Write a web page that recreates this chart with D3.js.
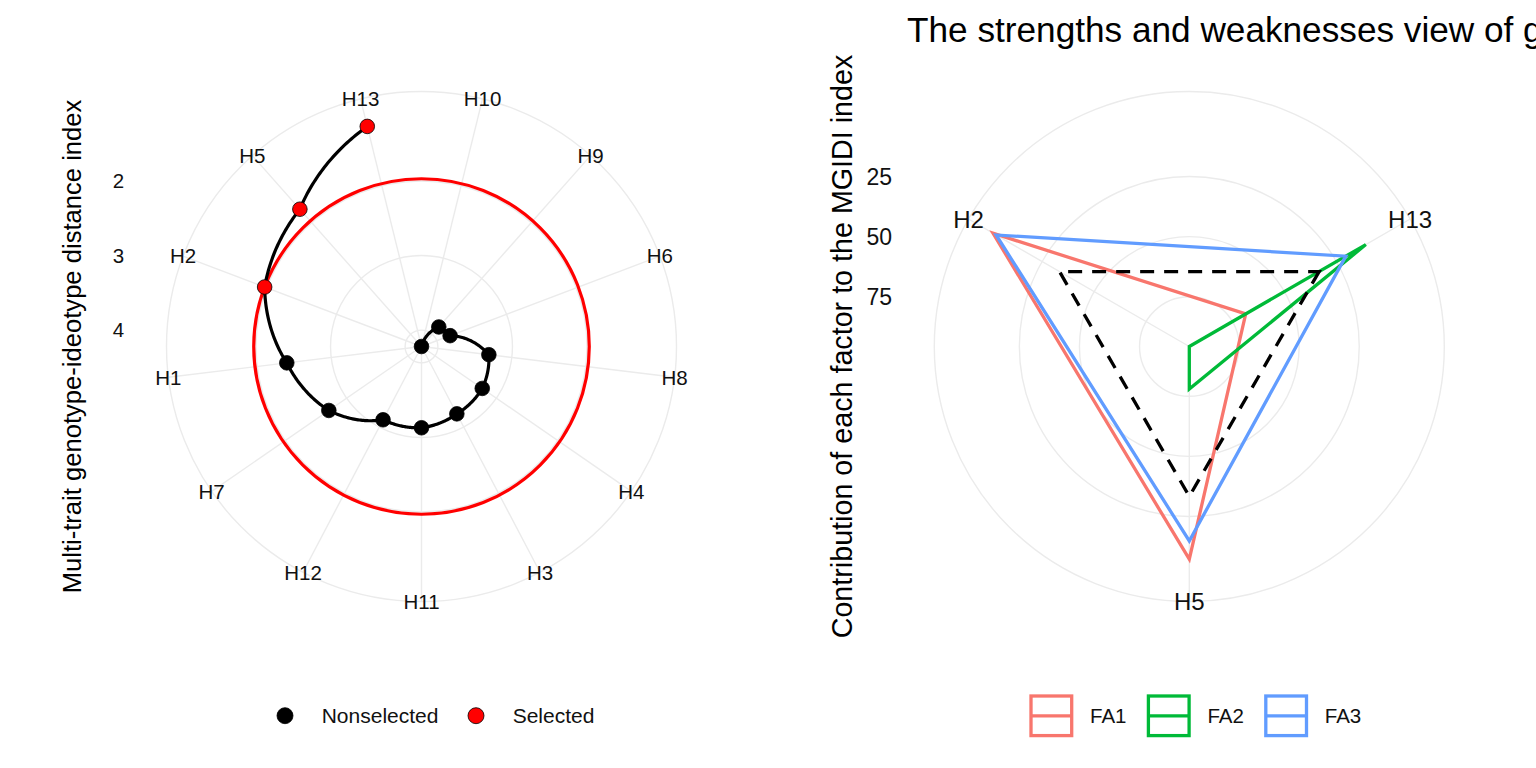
<!DOCTYPE html>
<html>
<head>
<meta charset="utf-8">
<script src="https://cdn.jsdelivr.net/npm/d3@7"></script>
<style>
  html, body { margin: 0; padding: 0; background: #fff; overflow: hidden; }
  svg { display: block; font-family: "Liberation Sans", Arial, sans-serif; }
</style>
</head>
<body>
<div id="chart"></div>
<script>
// MGIDI per genotype, clockwise from 12 o'clock (highest to lowest index)
const genotypes = ["H10", "H9", "H6", "H8", "H4", "H3", "H11", "H12", "H7", "H1", "H2", "H5", "H13"];
const mgidi = [4.22, 3.87, 3.81, 3.31, 3.23, 3.20, 3.13, 3.11, 2.71, 2.40, 1.97, 1.76, 1.18];
const selected = ["H2", "H5", "H13"];
const cutoff = 1.97;
const mgidiTicks = [2, 3, 4];
const selLabels = ["Nonselected", "Selected"];

// contribution (%) of each factor for the selected genotypes
const radarGenotypes = ["H13", "H5", "H2"];
const factors = ["FA1", "FA2", "FA3"];
const fa1 = [68.6, 7.2, 1.4];
const fa2 = [10.9, 78.0, 95.7];
const fa3 = [20.5, 14.8, 2.9];
const equalShare = [33.33, 33.33, 33.33];
const contribTicks = [25, 50, 75];

const factorColors = ["#F8766D", "#00BA38", "#619CFF"];
const gridCol = "#EBEBEB";

const W = 1536, H = 768;
const svg = d3.select("#chart").append("svg")
    .attr("width", W)
    .attr("height", H);

const outerR = 255;                 // outer ring of the panel
const dataR = outerR * 0.4 / 0.45;  // radius used by the data range
const half = outerR / 0.45 / 2;     // half of the panel width

// background of a polar panel: rings, spokes, labels
function polarPanel(cx, cy, cats, rScale, ticks, axisSize, thetaSize) {
    const g = svg.append("g").attr("transform", `translate(${cx},${cy})`);
    const theta = d3.scaleBand().domain(cats).range([0, 2 * Math.PI]);
    const ang = d => theta(d) + theta.bandwidth() / 2;

    g.selectAll(".ring")
        .data(ticks.map(t => rScale(t)).concat([outerR]))
        .enter().append("circle")
        .attr("r", d => d)
        .attr("fill", "none")
        .attr("stroke", gridCol)
        .attr("stroke-width", 1.4);

    g.selectAll(".spoke")
        .data(cats)
        .enter().append("line")
        .attr("x1", 0).attr("y1", 0)
        .attr("x2", d => outerR * Math.sin(ang(d)))
        .attr("y2", d => -outerR * Math.cos(ang(d)))
        .attr("stroke", gridCol)
        .attr("stroke-width", 1.4);

    g.selectAll(".tlab")
        .data(cats)
        .enter().append("text")
        .attr("x", d => outerR * Math.sin(ang(d)))
        .attr("y", d => -outerR * Math.cos(ang(d)))
        .attr("dy", "0.36em")
        .attr("text-anchor", "middle")
        .style("font-size", thetaSize + "px")
        .attr("fill", "#111")
        .text(d => d);

    g.selectAll(".rlab")
        .data(ticks)
        .enter().append("text")
        .attr("x", -half - 14)
        .attr("y", d => -rScale(d))
        .attr("dy", "0.36em")
        .attr("text-anchor", "end")
        .style("font-size", axisSize + "px")
        .attr("fill", "#111")
        .text(d => d);

    return { g, ang };
}

// ---------- left: MGIDI spiral ----------
const lcx = 421.5, lcy = 346.5;
const rL = d3.scaleLinear().domain(d3.extent(mgidi)).range([dataR, 0]);
const left = polarPanel(lcx, lcy, genotypes, rL, mgidiTicks, 20.5, 20.5);

// cutoff ring
left.g.append("circle")
    .attr("r", rL(cutoff))
    .attr("fill", "none")
    .attr("stroke", "#FF0000")
    .attr("stroke-width", 3.2);

// path drawn in polar space (spiral between points)
const pts = genotypes.map((g, i) => ({ a: left.ang(g), r: rL(mgidi[i]) }));
const fine = [];
for (let i = 0; i < pts.length - 1; i++) {
    for (let k = 0; k < 40; k++) {
        const t = k / 40;
        fine.push({
            a: pts[i].a + (pts[i + 1].a - pts[i].a) * t,
            r: pts[i].r + (pts[i + 1].r - pts[i].r) * t
        });
    }
}
fine.push(pts[pts.length - 1]);

left.g.append("path")
    .datum(fine)
    .attr("d", d3.lineRadial().angle(d => d.a).radius(d => d.r))
    .attr("fill", "none")
    .attr("stroke", "#000")
    .attr("stroke-width", 3.2);

left.g.selectAll(".pt")
    .data(genotypes)
    .enter().append("circle")
    .attr("cx", (d, i) => rL(mgidi[i]) * Math.sin(left.ang(d)))
    .attr("cy", (d, i) => -rL(mgidi[i]) * Math.cos(left.ang(d)))
    .attr("r", 7.3)
    .attr("fill", d => selected.includes(d) ? "#FF0000" : "#000")
    .attr("stroke", "#000")
    .attr("stroke-width", 0.8);

// y-axis title
svg.append("text")
    .attr("transform", `translate(81,${lcy}) rotate(-90)`)
    .attr("text-anchor", "middle")
    .style("font-size", "25.6px")
    .text("Multi-trait genotype-ideotype distance index");

// legend
const lleg = svg.append("g");
selLabels.forEach((lab, i) => {
    const x0 = 285 + i * 191;
    lleg.append("circle")
        .attr("cx", x0).attr("cy", 715.7)
        .attr("r", 8)
        .attr("fill", i === 0 ? "#000" : "#FF0000")
        .attr("stroke", "#000")
        .attr("stroke-width", 0.8);
    lleg.append("text")
        .attr("x", x0 + 36.7).attr("y", 715.7)
        .attr("dy", "0.36em")
        .style("font-size", "21px")
        .attr("fill", "#111")
        .text(lab);
});

// ---------- right: radar of factor contributions ----------
const rcx = 1189.3, rcy = 346.5;
const rR = d3.scaleLinear()
    .domain(d3.extent([...fa1, ...fa2, ...fa3, ...equalShare]))
    .range([dataR, 0]);
const right = polarPanel(rcx, rcy, radarGenotypes, rR, contribTicks, 23, 24);

const radar = d3.lineRadial()
    .angle(d => right.ang(d.g))
    .radius(d => rR(d.v))
    .curve(d3.curveLinearClosed);

[fa1, fa2, fa3].forEach((vals, i) => {
    right.g.append("path")
        .datum(radarGenotypes.map((g, j) => ({ g, v: vals[j] })))
        .attr("d", radar)
        .attr("fill", "none")
        .attr("stroke", factorColors[i])
        .attr("stroke-width", 3.3);
});

right.g.append("path")
    .datum(radarGenotypes.map((g, j) => ({ g, v: equalShare[j] })))
    .attr("d", radar)
    .attr("fill", "none")
    .attr("stroke", "#000")
    .attr("stroke-width", 3.3)
    .attr("stroke-dasharray", "14,10");

// title (runs past the right edge, as in the original)
svg.append("text")
    .attr("x", 907).attr("y", 42)
    .style("font-size", "35.2px")
    .text("The strengths and weaknesses view of genotypes");

// y-axis title
svg.append("text")
    .attr("transform", `translate(852,${rcy}) rotate(-90)`)
    .attr("text-anchor", "middle")
    .style("font-size", "28.7px")
    .text("Contribution of each factor to the MGIDI index");

// legend
const rleg = svg.append("g");
factors.forEach((f, i) => {
    const x0 = 1031 + i * 117.4;
    rleg.append("rect")
        .attr("x", x0).attr("y", 696)
        .attr("width", 40.7).attr("height", 39.6)
        .attr("fill", "none")
        .attr("stroke", factorColors[i])
        .attr("stroke-width", 3.3);
    rleg.append("line")
        .attr("x1", x0).attr("x2", x0 + 40.7)
        .attr("y1", 715.8).attr("y2", 715.8)
        .attr("stroke", factorColors[i])
        .attr("stroke-width", 3.3);
    rleg.append("text")
        .attr("x", x0 + 59).attr("y", 715.8)
        .attr("dy", "0.36em")
        .style("font-size", "20.5px")
        .attr("fill", "#111")
        .text(f);
});
</script>
</body>
</html>
